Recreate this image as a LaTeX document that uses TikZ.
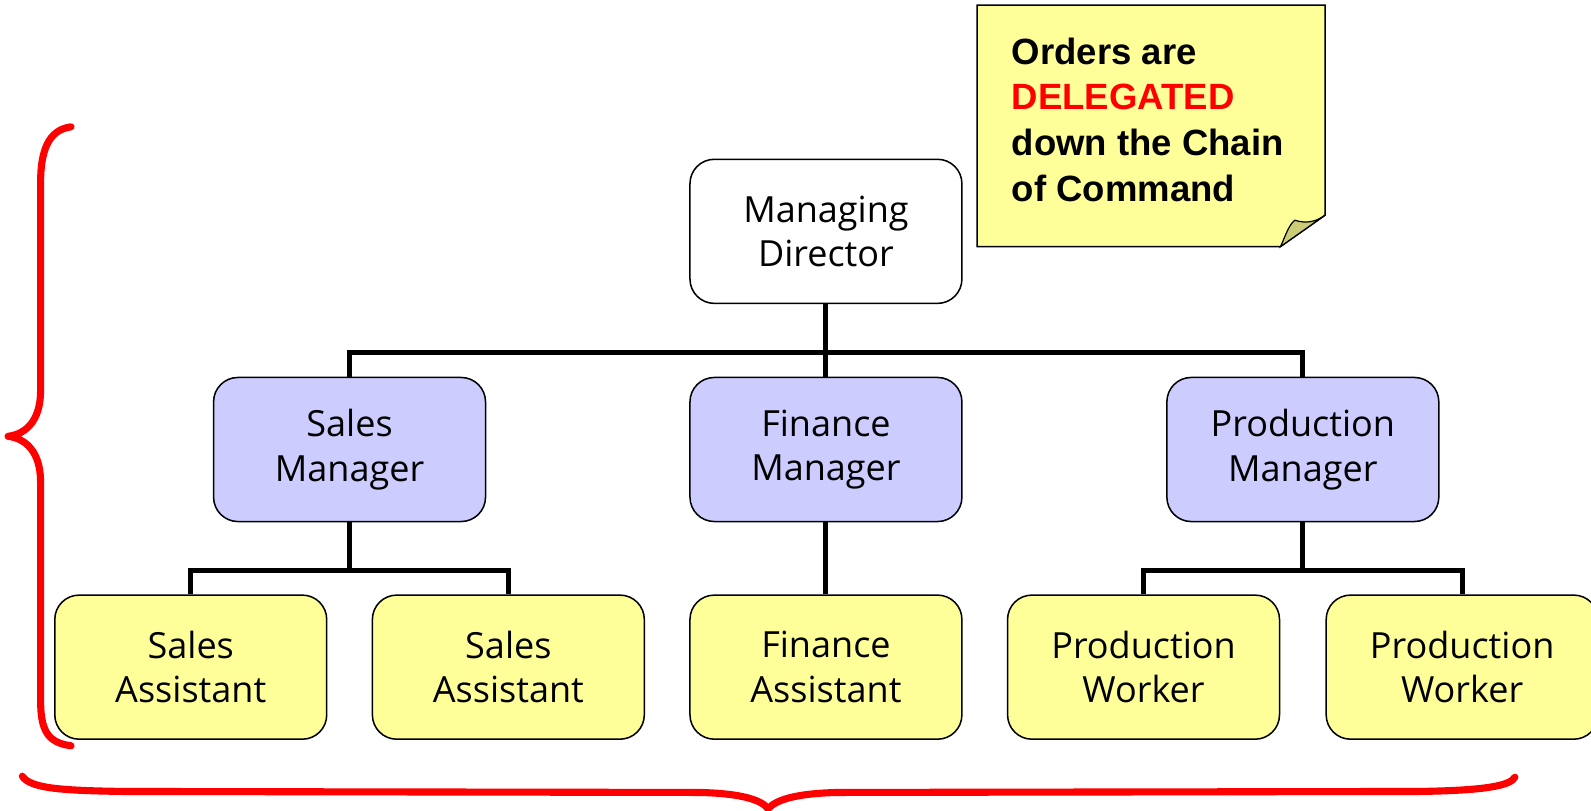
\documentclass[tikz,border=0pt]{standalone}
\usepackage{fontspec}
\setmainfont{Open Sans}
\newfontfamily\notefont{Liberation Sans}
\definecolor{workerfill}{HTML}{FFFF99}
\definecolor{managerfill}{HTML}{CCCCFF}
\definecolor{notefill}{HTML}{FFFF99}
\definecolor{foldfill}{HTML}{CCCC77}
\begin{document}
\begin{tikzpicture}[x=1pt,y=-1pt,
  box/.style={draw=black,line width=1.5pt,rounded corners=24pt,minimum width=268pt,minimum height=142pt,align=center,inner sep=0pt,font=\fontsize{35.5}{44}\selectfont},
  topbox/.style={box,fill=white},
  mgrbox/.style={box,fill=managerfill},
  wkrbox/.style={box,fill=workerfill},
  conn/.style={draw=black,line width=5pt},
  brace/.style={draw=red,line width=7pt,line cap=round,line join=round}]
\useasboundingbox (0,0) rectangle (1568,799);
% sticky note
\draw[fill=notefill,line width=1.5pt] (963,5) -- (1306,5) -- (1306,212) -- (1262,243) -- (963,243) -- cycle;
\draw[fill=foldfill,line width=1.2pt] (1262,243) .. controls (1267,232) and (1270,222) .. (1276,217) .. controls (1288,221) and (1298,218) .. (1306,212) -- cycle;
\node[anchor=north west,inner sep=0pt,align=left,font=\notefont\bfseries\fontsize{36}{45}\selectfont] (note) at (997,37)
  {Orders are\\\textcolor{red}{DELEGATED}\\down the Chain\\of Command};
% boxes
\node[topbox] (md) at (814,228) {Managing\\Director};
\node[mgrbox] (sm) at (344.5,443) {Sales\\Manager};
\node[mgrbox] (fm) at (814,443) {Finance\\Manager};
\node[mgrbox] (pm) at (1284,443) {Production\\Manager};
\node[wkrbox] (sa1) at (188,657.5) {Sales\\Assistant};
\node[wkrbox] (sa2) at (501,657.5) {Sales\\Assistant};
\node[wkrbox] (fa) at (814,657.5) {Finance\\Assistant};
\node[wkrbox] (pw1) at (1127,657.5) {Production\\Worker};
\node[wkrbox] (pw2) at (1441,657.5) {Production\\Worker};
% connectors
\coordinate (bus1) at (814,347);
\coordinate (bus2) at (344.5,562);
\coordinate (bus3) at (1284,562);
\draw[conn] (md.south) -- (fm.north);
\draw[conn] (sm.north) |- (bus1) -| (pm.north);
\draw[conn] (sm.south) -- (bus2);
\draw[conn] (sa1.north) |- (bus2) -| (sa2.north);
\draw[conn] (fm.south) -- (fa.north);
\draw[conn] (pm.south) -- (bus3);
\draw[conn] (pw1.north) |- (bus3) -| (pw2.north);
% braces
\draw[brace] (70,125) .. controls (47,128) and (40,150) .. (40,180) -- (40,385) .. controls (40,415) and (25,428) .. (8,430) .. controls (25,432) and (40,445) .. (40,475) -- (40,690) .. controls (40,720) and (47,732) .. (70,735);
\draw[brace] (22,765) .. controls (30,777) and (60,779) .. (120,780) -- (690,781) .. controls (730,782) and (750,788) .. (757,797) .. controls (765,788) and (785,782) .. (825,781) -- (1400,780) .. controls (1460,779) and (1488,775) .. (1493,766);
\end{tikzpicture}
\end{document}
